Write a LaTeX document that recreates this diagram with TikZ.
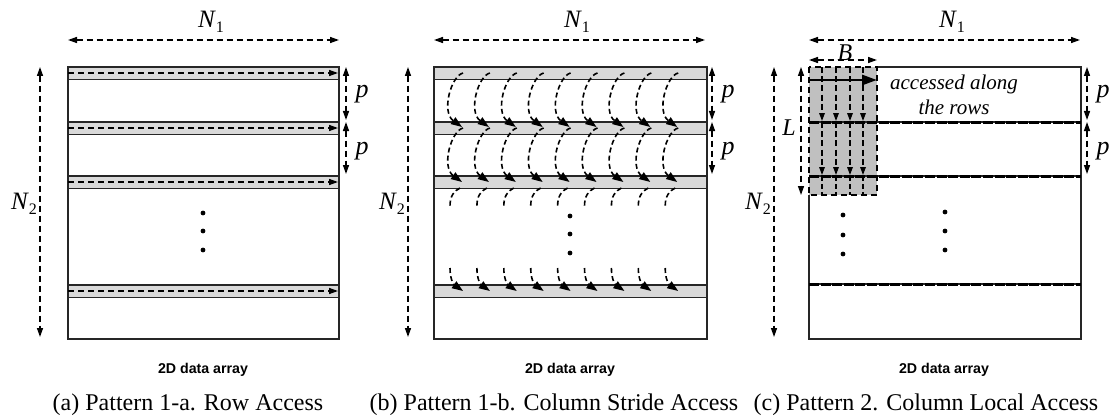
\documentclass[tikz,border=0pt]{standalone}
\usepackage{fontspec}
\setmainfont{Liberation Serif}
\setsansfont{Liberation Sans}
\usetikzlibrary{arrows.meta}
\definecolor{rowGray}{RGB}{217,217,217}
\definecolor{blockGray}{RGB}{192,192,192}
\newcommand{\lbl}[2]{\textit{#1}\raisebox{-0.45ex}{\fontsize{8}{9}\selectfont #2}}

\begin{document}
\begin{tikzpicture}[
        x=0.5pt,
        y=-0.5pt,
        frame/.style={draw=black!85, line width=0.6pt},
        band/.style={frame, fill=rowGray},
        dimarrow/.style={line width=0.7pt, dash pattern=on 3pt off 2pt, {Triangle[length=4.5pt,width=3pt]}-{Triangle[length=4.5pt,width=3pt]}},
        rowarrow/.style={line width=0.7pt, dash pattern=on 3pt off 2pt, -{Triangle[length=4.5pt,width=3pt]}},
        arcarrow/.style={line width=0.8pt, dash pattern=on 2.5pt off 1.6pt, -{Triangle[length=5.5pt,width=4pt]}},
        arcpiece/.style={line width=0.8pt, dash pattern=on 2.5pt off 1.6pt},
        innerarrow/.style={line width=0.65pt, dash pattern=on 3pt off 1.6pt, -{Triangle[length=4pt,width=2.8pt]}},
        rowline/.style={line width=1.5pt, dash pattern=on 5pt off 0.8pt},
        dot/.style={circle, fill=black, inner sep=0pt, minimum size=2.4pt},
        symlabel/.style={font=\fontsize{12.5}{14}\selectfont, inner sep=1pt},
        plabel/.style={font=\fontsize{13}{15}\selectfont\itshape, inner sep=1pt},
        note/.style={font=\fontsize{10.5}{12.5}\selectfont\itshape, align=center, inner sep=0pt},
        arraytitle/.style={font=\sffamily\bfseries\fontsize{7.1}{8.5}\selectfont},
        caption/.style={font=\fontsize{12}{14}\selectfont}
    ]
        \useasboundingbox (0,0) rectangle (1112,417);

        \foreach \ox/\nx/\px/\tx/\cx/\id/\cap in {
            0/40/346/203/188/a/{(a) Pattern 1-a. Row Access},
            366/408/712/570/554/b/{(b) Pattern 1-b. Column Stride Access},
            741/774/1087/944/926/c/{(c) Pattern 2. Column Local Access}} {
            \draw[dimarrow] ({\ox+68},40) -- ({\ox+339},40);
            \node[symlabel] (n1\id) at ({\ox+211},22) {\lbl{N}{1}};
            \draw[dimarrow] (\nx,67) -- (\nx,337);
            \node[symlabel] (n2\id) at ({\nx-16},204) {\lbl{N}{2}};
            \draw[dimarrow] (\px,67) -- (\px,120);
            \draw[dimarrow] (\px,122) -- (\px,174);
            \node[plabel] (p1\id) at ({\px+16},94) {p};
            \node[plabel] (p2\id) at ({\px+16},151) {p};
            \node[arraytitle] (title\id) at (\tx,370) {2D data array};
            \node[caption] (cap\id) at (\cx,405) {\cap};
        }

        % (a) row access
        \draw[frame] (68,67) rectangle (339,339);
        \foreach \y in {67,122,176,285} {
            \draw[band] (68,\y) rectangle (339,{\y+12.5});
            \draw[rowarrow] (68,{\y+6}) -- (338,{\y+6});
        }
        \foreach \y [count=\i] in {213,231,250} {
            \node[dot] (dota\i) at (203,\y) {};
        }

        % (b) column stride access
        \draw[frame] (434,67) rectangle (707,339);
        \foreach \y in {67,122,176,285} {
            \draw[band] (434,\y) rectangle (707,{\y+12.5});
        }
        \foreach \k [evaluate=\k as \x using 463+26.9*\k] in {0,...,8} {
            \draw[arcarrow] (\x,73) .. controls ({\x-12},76) and ({\x-22},112) .. ({\x-1},127);
            \draw[arcarrow] (\x,128) .. controls ({\x-12},131) and ({\x-22},167) .. ({\x-1},182);
            \draw[arcpiece] ({\x-3},188) .. controls ({\x-9},191) and ({\x-13},196) .. ({\x-13},206);
            \draw[arcarrow] ({\x-13},268) .. controls ({\x-13},278) and ({\x-10},284) .. ({\x},291);
        }
        \foreach \y [count=\i] in {216,234,253} {
            \node[dot] (dotb\i) at (570,\y) {};
        }

        % (c) column local access
        \fill[blockGray] (809,67) rectangle (877,195);
        \draw[frame] (877,67) -- (1081,67) -- (1081,339) -- (809,339) -- (809,195);
        \foreach \y in {122,176,284} {
            \draw[frame] (809,\y) -- (1081,\y);
            \draw[rowline] (809,\y) -- (1081,\y);
        }
        \foreach \x in {822,836,850,863} {
            \draw[innerarrow] (\x,67) -- (\x,121);
            \draw[innerarrow] (\x,122) -- (\x,175);
            \draw[arcpiece, line width=0.65pt] (\x,176) -- (\x,195);
        }
        \draw[line width=0.7pt, dash pattern=on 3pt off 2pt] (809,67) rectangle (877,195);
        \draw[line width=1.4pt, -{Triangle[length=7.5pt,width=5pt]}] (809,80) -- (877,80);
        \node[note] (along) at (954,95) {accessed along\\the rows};
        \draw[dimarrow] (809,60) -- (877,60);
        \node[symlabel, font=\fontsize{12}{14}\selectfont\itshape] (blen) at (845,53) {B};
        \draw[dimarrow] (801,67) -- (801,195);
        \node[symlabel, font=\fontsize{12}{14}\selectfont\itshape] (llen) at (789,128) {L};
        \foreach \y [count=\i] in {215,235,254} {
            \node[dot] (dotc\i) at (843,\y) {};
        }
        \foreach \y [count=\i] in {212,231,250} {
            \node[dot] (dotd\i) at (945,\y) {};
        }
    \end{tikzpicture}
\end{document}
